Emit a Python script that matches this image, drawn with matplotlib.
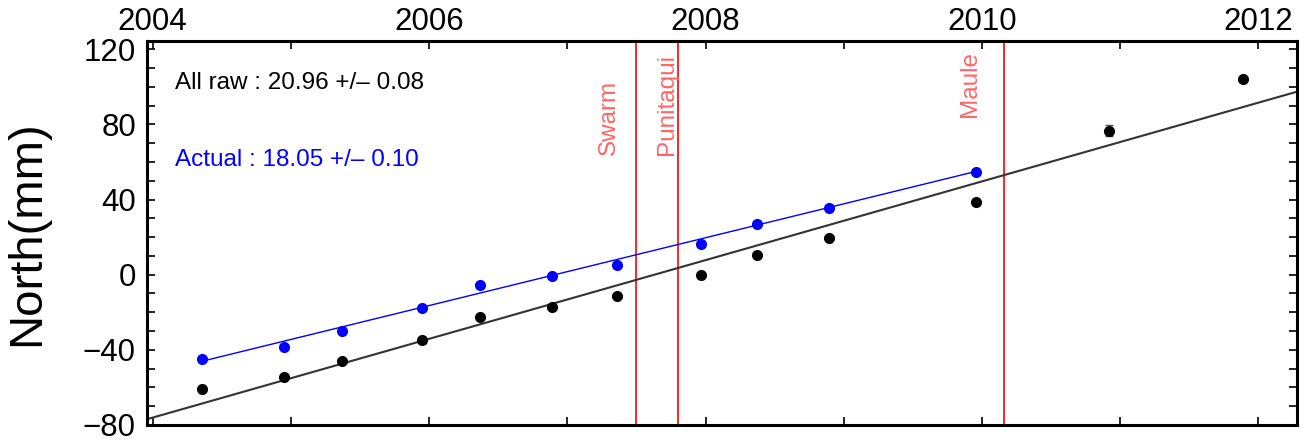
import numpy as np
import matplotlib
matplotlib.use("Agg")
import matplotlib.pyplot as plt
from matplotlib.ticker import MultipleLocator

plt.rcParams['font.family'] = ['Liberation Sans', 'DejaVu Sans']

# raw (all) positions, north component
raw_t = [2004.36, 2004.95, 2005.37, 2005.95, 2006.37, 2006.89, 2007.36,
         2007.97, 2008.37, 2008.89, 2009.96, 2010.92, 2011.89]
raw_n = [-60.7, -54.5, -46.0, -35.0, -22.6, -17.3, -11.2,
         0.0, 10.5, 19.4, 38.5, 76.7, 104.0]
raw_err = [1.0, 1.0, 1.0, 1.0, 1.0, 1.0, 1.0, 1.0, 1.0, 1.0, 1.2, 2.8, 1.2]

# corrected (actual) positions
act_t = [2004.36, 2004.95, 2005.37, 2005.95, 2006.37, 2006.89, 2007.36,
         2007.97, 2008.37, 2008.89, 2009.96]
act_n = [-44.7, -38.7, -29.8, -17.9, -5.5, -0.7, 5.2, 16.3, 27.0, 35.3, 54.5]

# linear rates (mm/yr) and zero-crossing epochs of the fitted lines
raw_rate, raw_err_rate, raw_t0 = 20.96, 0.08, 2007.63
act_rate, act_err_rate, act_t0 = 18.05, 0.10, 2006.91

# events
event_names = ['Swarm', 'Punitaqui', 'Maule']
event_t = [2007.50, 2007.80, 2010.16]
event_label_t = [2007.30, 2007.72, 2009.91]
event_label_y = [63.7, 63.7, 84.0]

fig = plt.figure(figsize=(13.07, 4.41), dpi=100)
ax = fig.add_axes([0.1125, 0.0363, 0.88, 0.8707])

xmin, xmax = 2003.96, 2012.28
ax.set_xlim(xmin, xmax)
ax.set_ylim(-80, 124.4)

# fitted lines
xx = np.array([xmin, xmax])
ax.plot(xx, raw_rate*(xx-raw_t0), color='#333333', lw=1.5, zorder=2)
xa = np.array([act_t[0], act_t[-1]])
ax.plot(xa, act_rate*(xa-act_t0), color='blue', lw=1, zorder=2)

# data points
ax.errorbar(raw_t, raw_n, yerr=raw_err, fmt='o', color='black', ms=7,
            ecolor='#555555', elinewidth=1.2, capsize=3, zorder=3)
ax.plot(act_t, act_n, 'o', color='blue', ms=7, zorder=3)

# events
for name, t, lt, ly in zip(event_names, event_t, event_label_t, event_label_y):
    ax.axvline(t, color='red', lw=1.2, zorder=1)
    ax.text(lt, ly, name, rotation=90, ha='center', va='bottom',
            color='#ff6666', fontsize=17.5)

ax.text(2004.16, 98.7, 'All raw : %.2f +/\u2013 %.2f' % (raw_rate, raw_err_rate),
        color='black', fontsize=17.5, va='baseline')
ax.text(2004.16, 58.0, 'Actual : %.2f +/\u2013 %.2f' % (act_rate, act_err_rate),
        color='blue', fontsize=17.5, va='baseline')

ax.set_ylabel('North(mm)', fontsize=34, labelpad=24)

ax.xaxis.set_major_locator(MultipleLocator(2))
ax.xaxis.set_minor_locator(MultipleLocator(1))
ax.yaxis.set_major_locator(MultipleLocator(40))
ax.yaxis.set_minor_locator(MultipleLocator(10))
ax.tick_params(which='both', direction='in', top=True, bottom=True,
               left=True, right=True, length=6, width=1.2,
               labeltop=True, labelbottom=False)
ax.tick_params(axis='x', labelsize=22.5, pad=3)
ax.tick_params(axis='y', labelsize=22.5, pad=8)
for s in ax.spines.values():
    s.set_linewidth(2.2)

fig.savefig('out.png', dpi=100)
